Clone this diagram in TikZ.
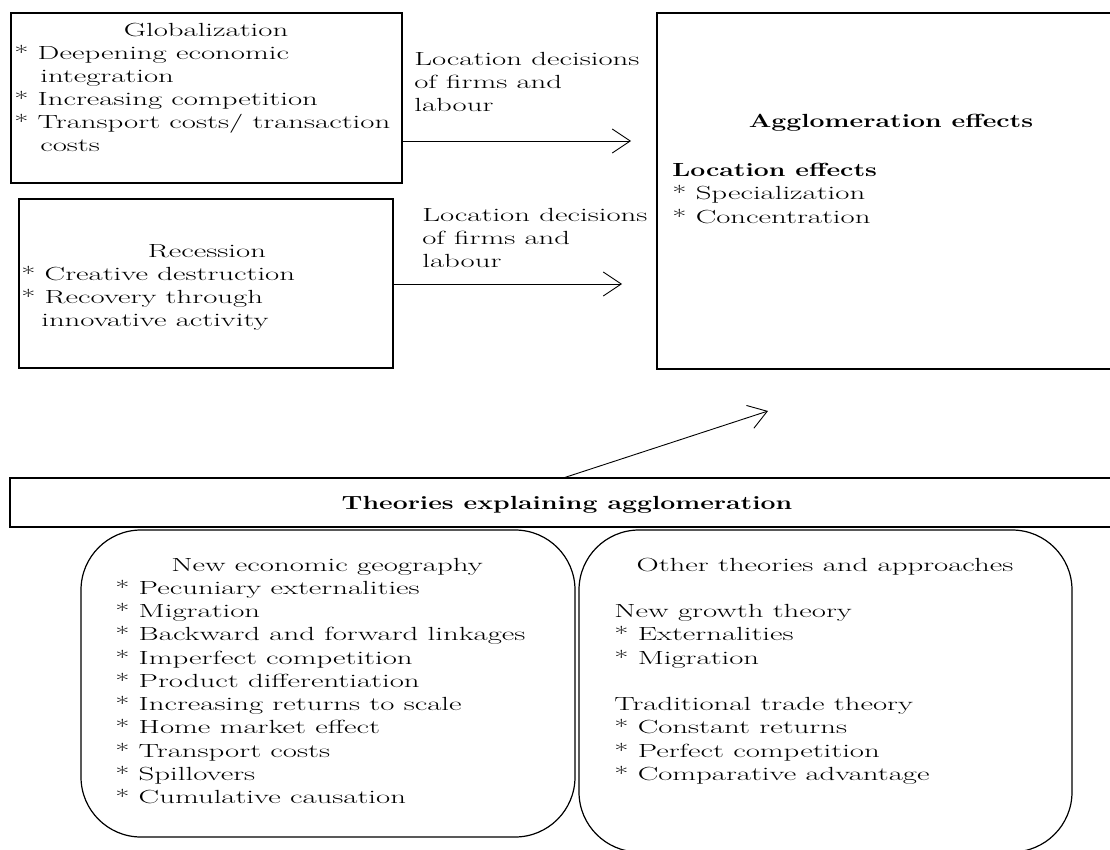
\documentclass[tikz,border=0pt]{standalone}
\usepackage{fontspec}
\usetikzlibrary{arrows.meta}

\tikzset{
  box/.style={draw, line width=1.2pt, inner sep=0pt},
  roundbox/.style={draw, line width=1.2pt, rounded corners=60pt, inner sep=0pt},
  txt/.style={inner sep=0pt, font=\fontsize{19}{23}\selectfont, xscale=1.62},
  boldtxt/.style={inner sep=0pt, font=\fontsize{19}{23}\selectfont\bfseries, xscale=1.40},
  arr/.style={line width=0.9pt, -{Straight Barb[length=18pt, width=24pt]}},
}

\begin{document}
\begin{tikzpicture}[x=1pt, y=-1pt]
    \useasboundingbox (0,0) rectangle (1110,849);

    % Boxes
    \node[box, minimum width=391, minimum height=170] (glob) at (206.5,98) {};
    \node[box, minimum width=374, minimum height=169] (rec) at (206,283.5) {};
    \node[box, minimum width=456, minimum height=356] (aggl) at (885,191) {};
    \node[box, minimum width=1102, minimum height=49] (theo) at (561,502.5) {};
    \node[roundbox, minimum width=494, minimum height=307] (neg) at (328,683.5) {};
    \node[roundbox, minimum width=493, minimum height=322] (other) at (825.5,691) {};

    % Globalization
    \node[txt, anchor=base] (globt) at (206,36) {Globalization};
    \node[txt, anchor=base west] (glob1) at (14,59) {* Deepening economic};
    \node[txt, anchor=base west] (glob2) at (40,82) {integration};
    \node[txt, anchor=base west] (glob3) at (14,105) {* Increasing competition};
    \node[txt, anchor=base west] (glob4) at (14,128) {* Transport costs/ transaction};
    \node[txt, anchor=base west] (glob5) at (40,151) {costs};

    % Recession
    \node[txt, anchor=base] (rect) at (207,257) {Recession};
    \node[txt, anchor=base west] (rec1) at (21,280) {* Creative destruction};
    \node[txt, anchor=base west] (rec2) at (21,303) {* Recovery through};
    \node[txt, anchor=base west] (rec3) at (41,326) {innovative activity};

    % Location decisions
    \foreach \entry [count=\i] in {Location decisions, of firms and, labour} {
        \node[txt, anchor=base west] (loca\i) at (414,{42+23*\i}) {\entry};
        \node[txt, anchor=base west] (locb\i) at (422,{198+23*\i}) {\entry};
    }
    \coordinate (a1) at (631,141);
    \coordinate (a2) at (622,284);
    \draw[arr] (glob.east |- a1) -- (a1);
    \draw[arr] (rec.east |- a2) -- (a2);

    % Agglomeration effects
    \node[boldtxt, anchor=base] (agglt) at (891,127) {Agglomeration effects};
    \node[boldtxt, anchor=base west] (aggl1) at (672,176) {Location effects};
    \node[txt, anchor=base west] (aggl2) at (672,199.5) {* Specialization};
    \node[txt, anchor=base west] (aggl3) at (672,223) {* Concentration};

    % Theories
    \node[boldtxt, anchor=base] (theot) at (567,509) {Theories explaining agglomeration};
    \coordinate (a3) at (768,411);
    \draw[arr] ([xshift=4pt]theo.north) -- (a3);

    % New economic geography
    \node[txt, anchor=base] (negt) at (327,571) {New economic geography};
    \foreach \entry [count=\i] in {Pecuniary externalities, Migration,
        Backward and forward linkages, Imperfect competition,
        Product differentiation, Increasing returns to scale,
        Home market effect, Transport costs, Spillovers, Cumulative causation}
        \node[txt, anchor=base west] (neg\i) at (115,{571+23.25*\i}) {* \entry};

    % Other theories
    \node[txt, anchor=base] (othert) at (825,571) {Other theories and approaches};
    \foreach \k/\entry in {2/New growth theory, 3/* Externalities, 4/* Migration,
        6/Traditional trade theory, 7/* Constant returns,
        8/* Perfect competition, 9/* Comparative advantage}
        \node[txt, anchor=base west] (other\k) at (614,{571+23.25*\k}) {\entry};
\end{tikzpicture}
\end{document}
